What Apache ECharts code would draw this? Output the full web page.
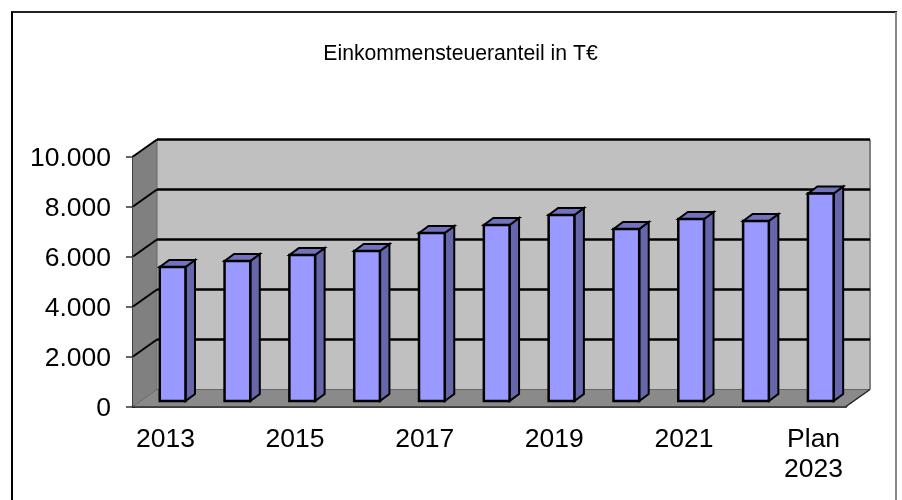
<!DOCTYPE html>
<html>
<head>
<meta charset="utf-8">
<style>
    html, body { margin: 0; padding: 0; background: #fff; }
    #chart { width: 902px; height: 500px; }
</style>
<script src="https://cdn.jsdelivr.net/npm/echarts@6/dist/echarts.min.js"></script>
</head>
<body>
<div id="chart"></div>
<script>
    var title = 'Einkommensteueranteil in T€'
    var categories = ['2013', '2014', '2015', '2016', '2017', '2018', '2019', '2020', '2021', '2022', 'Plan\n2023']
    var values = [5360, 5600, 5840, 6000, 6720, 7040, 7440, 6880, 7280, 7200, 8300]
    var yTicks = [0, 2000, 4000, 6000, 8000, 10000]

    // fake 3d: how far the back wall and the bars are shifted from the front plane
    var wallDx = 24, wallDy = -17
    var barOffsetDx = 7.2, barOffsetDy = -5.5
    var barDx = 9.5, barDy = -7
    var barWidthRatio = 0.397

    var font = '"Liberation Sans", Arial, sans-serif'

    function poly(points, fill, stroke, lineWidth) {
        return {
            type: 'polygon',
            shape: { points: points },
            style: { fill: fill, stroke: stroke || null, lineWidth: lineWidth || 0, lineJoin: 'miter' }
        }
    }

    function line(x1, y1, x2, y2, stroke, lineWidth) {
        return {
            type: 'line',
            shape: { x1: x1, y1: y1, x2: x2, y2: y2 },
            style: { stroke: stroke, lineWidth: lineWidth }
        }
    }

    function renderWalls(params, api) {
        var cs = params.coordSys
        var left = cs.x, right = cs.x + cs.width, top = cs.y, bottom = cs.y + cs.height
        var c = []
        // back wall, left wall, floor
        c.push(poly([[left + wallDx, top + wallDy], [right + wallDx, top + wallDy], [right + wallDx, bottom + wallDy], [left + wallDx, bottom + wallDy]], '#c0c0c0'))
        c.push(poly([[left, top], [left + wallDx, top + wallDy], [left + wallDx, bottom + wallDy], [left, bottom]], '#808080'))
        c.push(poly([[left, bottom], [left + wallDx, bottom + wallDy], [right + wallDx, bottom + wallDy], [right, bottom]], '#8a8a8a'))
        c.push(line(left + wallDx, top + wallDy, left + wallDx, bottom + wallDy, '#666', 1))
        c.push(line(right + wallDx, top + wallDy, right + wallDx, bottom + wallDy, '#808080', 2))
        c.push(line(left, bottom, left + wallDx, bottom + wallDy, '#666', 1))
        c.push(line(left + wallDx, bottom + wallDy, right + wallDx, bottom + wallDy, '#666', 1))
        c.push(line(right, bottom, right + wallDx, bottom + wallDy, '#222', 1.5))
        yTicks.forEach(function (t) {
            if (t == 0) return
            var y = api.coord([0, t])[1]
            c.push(line(left, y, left + wallDx, y + wallDy, '#000', 2))
            c.push(line(left + wallDx, y + wallDy, right + wallDx, y + wallDy, '#000', 2.5))
        })
        return { type: 'group', children: c }
    }

    function renderBar(params, api) {
        var p0 = api.coord([api.value(0), 0])
        var p1 = api.coord([api.value(0), api.value(1)])
        var w = api.size([1, 0])[0] * barWidthRatio
        var x1 = p0[0] + barOffsetDx - w / 2, x2 = x1 + w
        var yb = p0[1] + barOffsetDy, yt = p1[1] + barOffsetDy
        return {
            type: 'group',
            children: [
                poly([[x2, yt], [x2 + barDx, yt + barDy], [x2 + barDx, yb + barDy], [x2, yb]], '#6666aa', '#000', 2),
                poly([[x1, yt], [x1 + barDx, yt + barDy], [x2 + barDx, yt + barDy], [x2, yt]], '#7272bd', '#000', 2),
                poly([[x1, yt], [x2, yt], [x2, yb], [x1, yb]], '#9999ff', '#000', 2.5)
            ]
        }
    }

    var chart = echarts.init(document.getElementById('chart'), null, { renderer: 'canvas' })
    chart.setOption({
        animation: false,
        backgroundColor: '#fff',
        textStyle: { fontFamily: font },
        title: {
            text: title,
            left: 455.5,
            top: 39,
            textAlign: 'center',
            textStyle: { fontFamily: font, fontSize: 21.2, fontWeight: 'normal', color: '#000' }
        },
        grid: { left: 133, right: 56, top: 156.5, bottom: 93.5 },
        xAxis: {
            type: 'category',
            data: categories,
            axisLine: { lineStyle: { color: '#000', width: 2.5 } },
            axisTick: { length: 7, lineStyle: { color: '#333', width: 1.5 } },
            axisLabel: { interval: 1, fontSize: 26.5, lineHeight: 30, color: '#000', margin: 18, fontFamily: font }
        },
        yAxis: {
            type: 'value',
            min: 0,
            max: 10000,
            interval: 2000,
            splitLine: { show: false },
            axisLine: { show: true, lineStyle: { color: '#000', width: 2.5 } },
            axisTick: { show: true, length: 7, lineStyle: { color: '#333', width: 1.5 } },
            axisLabel: {
                margin: 22,
                // rich token only so the digits can sit a little below the tick
                rich: { v: { fontSize: 26.5, color: '#000', fontFamily: font, padding: [5, 0, 0, 0] } },
                formatter: function (v) { return '{v|' + String(v).replace(/\B(?=(\d{3})+$)/g, '.') + '}' }
            }
        },
        graphic: [
            { type: 'line', shape: { x1: 11, y1: 12, x2: 897, y2: 12 }, style: { stroke: '#222', lineWidth: 2 } },
            { type: 'line', shape: { x1: 12, y1: 12, x2: 12, y2: 500 }, style: { stroke: '#000', lineWidth: 2 } },
            { type: 'line', shape: { x1: 896, y1: 12, x2: 896, y2: 500 }, style: { stroke: '#888', lineWidth: 2 } }
        ],
        series: [
            {
                type: 'custom',
                silent: true,
                clip: false,
                z: 1,
                data: [[0, 0]],
                renderItem: renderWalls
            },
            {
                type: 'custom',
                silent: true,
                clip: false,
                z: 3,
                data: values.map(function (v, i) { return [i, v] }),
                renderItem: renderBar
            }
        ]
    })
</script>
</body>
</html>
